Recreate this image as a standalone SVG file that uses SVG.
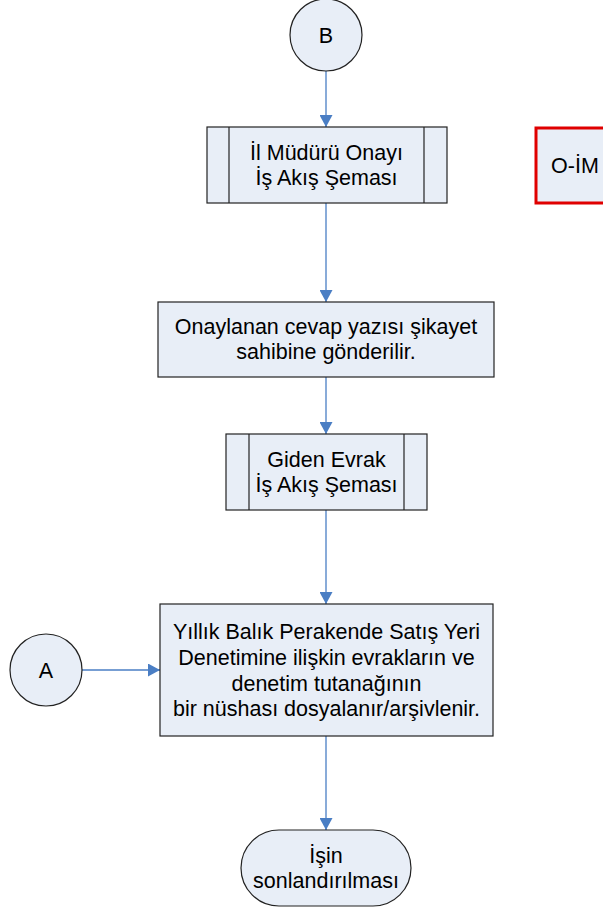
<svg xmlns="http://www.w3.org/2000/svg" width="603" height="910" viewBox="0 0 603 910">
<defs>
<style>
.n{fill:#E8EEF7;stroke:#222;stroke-width:1.2}
.t{font-family:"Liberation Sans",Arial,sans-serif;font-size:21.5px;fill:#000;text-anchor:middle}
.c{fill:none;stroke:#4A7EC4;stroke-width:1.3}
.red{fill:#E8EEF7;stroke:#E00000;stroke-width:3}
</style>
<marker id="ah" markerWidth="14" markerHeight="13" refX="12" refY="6.5" orient="auto" markerUnits="userSpaceOnUse">
<path d="M0,0 L12,6.5 L0,13 Z" fill="#4A7EC4"/>
</marker>
</defs>
<g id="connectors">
<line class="c" x1="326" y1="71" x2="326" y2="127" marker-end="url(#ah)"/>
<line class="c" x1="326" y1="203" x2="326" y2="302" marker-end="url(#ah)"/>
<line class="c" x1="326" y1="377" x2="326" y2="434" marker-end="url(#ah)"/>
<line class="c" x1="326" y1="510" x2="326" y2="604" marker-end="url(#ah)"/>
<line class="c" x1="82" y1="670" x2="160" y2="670" marker-end="url(#ah)"/>
<line class="c" x1="326" y1="736" x2="326" y2="830" marker-end="url(#ah)"/>
</g>
<g id="nodeB">
<circle class="n" cx="326" cy="35" r="36"/>
<text class="t" x="326" y="43">B</text>
</g>
<g id="node1">
<rect class="n" x="207" y="127" width="240" height="76"/>
<line class="n" x1="229" y1="127" x2="229" y2="203"/>
<line class="n" x1="424" y1="127" x2="424" y2="203"/>
<text class="t" x="326.5" y="160">İl Müdürü Onayı</text>
<text class="t" x="326.5" y="185">İş Akış Şeması</text>
</g>
<g id="nodeOIM">
<rect class="red" x="536" y="128" width="80" height="75"/>
<text class="t" x="575" y="173">O-İM</text>
</g>
<g id="node2">
<rect class="n" x="158" y="302" width="336" height="75"/>
<text class="t" x="326" y="334">Onaylanan cevap yazısı şikayet</text>
<text class="t" x="326" y="359">sahibine gönderilir.</text>
</g>
<g id="node3">
<rect class="n" x="226" y="434" width="201" height="76"/>
<line class="n" x1="249" y1="434" x2="249" y2="510"/>
<line class="n" x1="404" y1="434" x2="404" y2="510"/>
<text class="t" x="326.5" y="467">Giden Evrak</text>
<text class="t" x="326.5" y="492">İş Akış Şeması</text>
</g>
<g id="nodeA">
<circle class="n" cx="46" cy="670" r="36"/>
<text class="t" x="46" y="678">A</text>
</g>
<g id="node4">
<rect class="n" x="160" y="604" width="333" height="132"/>
<text class="t" x="326.5" y="639">Yıllık Balık Perakende Satış Yeri</text>
<text class="t" x="326.5" y="665">Denetimine ilişkin evrakların ve</text>
<text class="t" x="326.5" y="691">denetim tutanağının</text>
<text class="t" x="326.5" y="716">bir nüshası dosyalanır/arşivlenir.</text>
</g>
<g id="nodeEnd">
<rect class="n" x="241" y="830" width="170" height="76" rx="38" ry="38"/>
<text class="t" x="326" y="863">İşin</text>
<text class="t" x="326" y="888">sonlandırılması</text>
</g>
</svg>
